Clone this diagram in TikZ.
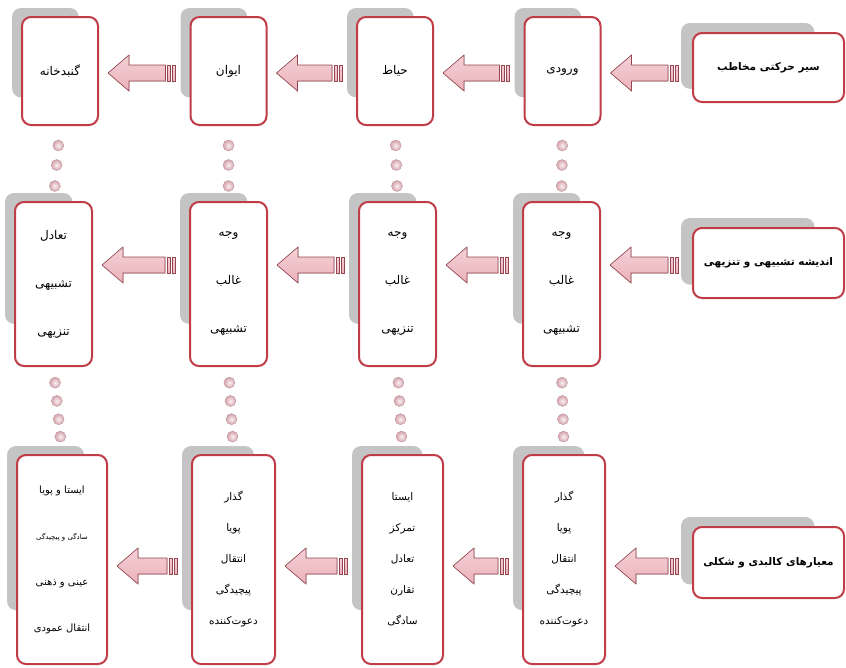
\documentclass[tikz,border=0pt]{standalone}
\usepackage{fontspec}
\newfontfamily\fafont[Script=Arabic]{DejaVu Sans}
\TeXXeTstate=1
\usetikzlibrary{calc,backgrounds}
\definecolor{boxred}{RGB}{192,60,70}
\definecolor{arrowline}{RGB}{150,70,80}
\definecolor{arrowpink}{RGB}{236,178,186}
\definecolor{dotpink}{RGB}{214,162,172}
\definecolor{dotrim}{RGB}{185,150,156}
\definecolor{shadowgray}{RGB}{196,196,196}
\newcommand{\rl}[1]{\beginR#1\endR}
\tikzset{
  stage/.style={draw=boxred, line width=2pt, rounded corners=9pt, fill=white,
    align=center, inner sep=0pt, font=\fafont\fontsize{12}{14}\selectfont},
  rowone/.style={stage, minimum width=76pt, minimum height=108pt},
  rowtwo/.style={stage, minimum width=77pt, minimum height=164pt,
    font=\fafont\fontsize{12}{48}\selectfont},
  rowthree/.style={stage, minimum height=209pt,
    font=\fafont\fontsize{10.5}{31}\selectfont},
  heading/.style={stage, minimum width=151pt, minimum height=70pt,
    font=\fafont\bfseries\fontsize{10.5}{12}\selectfont},
  arrowbody/.style={draw=arrowline, line width=0.6pt, top color=arrowpink!60!white,
    middle color=white, bottom color=arrowpink},
  dot/.style={inner color=white!85!dotpink, outer color=dotpink, draw=dotrim, line width=0.4pt}
}
\newcommand{\stripearrow}[3]{%
  \coordinate (tail) at ($(#1.west |- #3)+(-14,0)$);
  \coordinate (tip) at ($(#2.east |- #3)+(9,0)$);
  \filldraw[arrowbody] (tip) -- ++(21,-18) -- ++(0,10) -- ($(tail)+(-10,-8)$)
    -- ++(0,16) -- ($(tip)+(21,8)$) -- ++(0,10) -- cycle;
  \filldraw[arrowbody] ($(tail)+(-8,-8)$) rectangle ++(3,16);
  \filldraw[arrowbody] ($(tail)+(-3,-8)$) rectangle ++(3,16);
}
\begin{document}
\begin{tikzpicture}[x=1pt,y=-1pt]
\useasboundingbox (0,0) rectangle (846,667);
\coordinate (r1) at (0,73);
\coordinate (r2) at (0,265);
\coordinate (r3) at (0,566);

\node[rowone] (a1) at (60,71) {\rl{گنبدخانه}};
\node[rowone] (b1) at (228.5,71) {\rl{ایوان}};
\node[rowone] (c1) at (395,71) {\rl{حیاط}};
\node[rowone] (d1) at (562.5,71) {\rl{ورودی}};
\node[heading, minimum height=69pt] (l1) at (768.5,67.5) {\rl{سیر حرکتی مخاطب}};

\node[rowtwo] (a2) at (53.5,284) {\rl{تعادل}\\\rl{تشبیهی}\\\rl{تنزیهی}};
\node[rowtwo] (b2) at (228.5,284) {\rl{وجه}\\\rl{غالب}\\\rl{تشبیهی}};
\node[rowtwo] (c2) at (397.5,284) {\rl{وجه}\\\rl{غالب}\\\rl{تنزیهی}};
\node[rowtwo] (d2) at (561.5,284) {\rl{وجه}\\\rl{غالب}\\\rl{تشبیهی}};
\node[heading] (l2) at (768.5,263) {\rl{اندیشه تشبیهی و تنزیهی}};

\node[rowthree, minimum width=90pt, font=\fafont\fontsize{10}{46}\selectfont] (a3) at (62,559.5)
  {\rl{ایستا و پویا}\\{\fontsize{7}{8}\selectfont\rl{سادگی و پیچیدگی}}\\\rl{عینی و ذهنی}\\\rl{انتقال عمودی}};
\node[rowthree, minimum width=83pt] (b3) at (233.5,559.5)
  {\rl{گذار}\\\rl{پویا}\\\rl{انتقال}\\\rl{پیچیدگی}\\\rl{دعوت‌کننده}};
\node[rowthree, minimum width=81pt] (c3) at (402.5,559.5)
  {\rl{ایستا}\\\rl{تمرکز}\\\rl{تعادل}\\\rl{تقارن}\\\rl{سادگی}};
\node[rowthree, minimum width=82pt] (d3) at (564,559.5)
  {\rl{گذار}\\\rl{پویا}\\\rl{انتقال}\\\rl{پیچیدگی}\\\rl{دعوت‌کننده}};
\node[heading, minimum height=71pt] (l3) at (768.5,562.5) {\rl{معیارهای کالبدی و شکلی}};

\begin{scope}[on background layer]
\foreach \ua/\ub in {a1/a2,b1/b2,c1/c2,d1/d2}
  \foreach \t in {.26,.52,.8}
    \shadedraw[dot] ($(\ua.south)!\t!(\ub.north)$) circle (5.5);
\foreach \ua/\ub in {a2/a3,b2/b3,c2/c3,d2/d3}
  \foreach \t in {.18,.39,.6,.8}
    \shadedraw[dot] ($(\ua.south)!\t!(\ub.north)$) circle (5.5);
\foreach \n in {a1,b1,c1,d1,a2,b2,c2,d2,a3,b3,c3,d3}
  \fill[shadowgray, rounded corners=9pt] ([shift={(-9,-8)}]\n.north west)
    rectangle ($(\n.north west)!.74!(\n.south east)$);
\foreach \n in {l1,l2,l3}
  \fill[shadowgray, rounded corners=9pt] ([shift={(-11,-9)}]\n.north west)
    rectangle ($(\n.north west)!.8!(\n.south east)$);
\end{scope}

\stripearrow{b1}{a1}{r1}
\stripearrow{c1}{b1}{r1}
\stripearrow{d1}{c1}{r1}
\stripearrow{l1}{d1}{r1}
\stripearrow{b2}{a2}{r2}
\stripearrow{c2}{b2}{r2}
\stripearrow{d2}{c2}{r2}
\stripearrow{l2}{d2}{r2}
\stripearrow{b3}{a3}{r3}
\stripearrow{c3}{b3}{r3}
\stripearrow{d3}{c3}{r3}
\stripearrow{l3}{d3}{r3}
\end{tikzpicture}
\end{document}
